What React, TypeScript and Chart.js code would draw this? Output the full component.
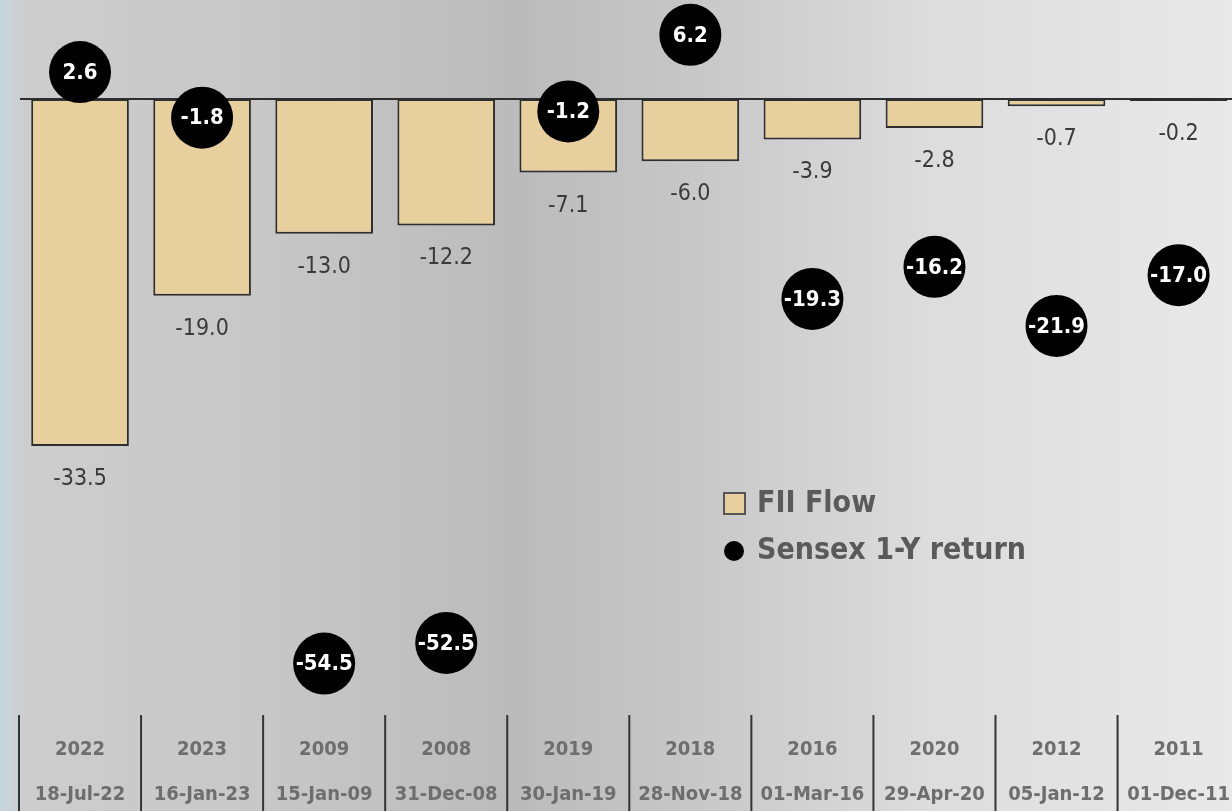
import React, { useEffect, useRef } from "react";
import { Chart, registerables } from "chart.js";

Chart.register(...registerables);

const years = ["2022", "2023", "2009", "2008", "2019", "2018", "2016", "2020", "2012", "2011"];
const dates = ["18-Jul-22", "16-Jan-23", "15-Jan-09", "31-Dec-08", "30-Jan-19", "28-Nov-18", "01-Mar-16", "29-Apr-20", "05-Jan-12", "01-Dec-11"];
const fiiFlow = [-33.5, -19.0, -13.0, -12.2, -7.1, -6.0, -3.9, -2.8, -0.7, -0.2];
const sensexReturn = [2.6, -1.8, -54.5, -52.5, -1.2, 6.2, -19.3, -16.2, -21.9, -17.0];

const FONT = "'Liberation Sans Narrow', 'DejaVu Sans Condensed', 'Roboto Condensed', sans-serif";

const bgPlugin = {
  id: "bg",
  beforeDraw(chart: any) {
    const { ctx, width, height } = chart;
    const g = ctx.createLinearGradient(0, 0, 1232, 0);
    g.addColorStop(0, "#c6d6de");
    g.addColorStop(0.007, "#c9d3d8");
    g.addColorStop(0.02, "#cdcdcd");
    g.addColorStop(0.2, "#c8c8c8");
    g.addColorStop(0.42, "#bbbbbb");
    g.addColorStop(0.55, "#c6c6c6");
    g.addColorStop(0.75, "#dcdcdc");
    g.addColorStop(1, "#e9e9e9");
    ctx.save();
    ctx.fillStyle = g;
    ctx.fillRect(0, 0, width, height);
    ctx.restore();
  },
};

const decorPlugin = {
  id: "decor",
  beforeDatasetsDraw(chart: any) {
    const { ctx, chartArea, scales } = chart;
    const y0 = scales.y.getPixelForValue(0);
    ctx.save();
    ctx.strokeStyle = "#2e2e2e";
    ctx.lineWidth = 2;
    ctx.beginPath();
    ctx.moveTo(chartArea.left + 1, y0);
    ctx.lineTo(chart.width, y0);
    ctx.stroke();
    ctx.restore();
  },
  afterDatasetsDraw(chart: any) {
    const { ctx, chartArea } = chart;
    ctx.save();
    // bar value labels
    const barMeta = chart.getDatasetMeta(0);
    ctx.fillStyle = "#3a3a3a";
    ctx.font = `23px ${FONT}`;
    ctx.textAlign = "center";
    ctx.textBaseline = "middle";
    barMeta.data.forEach((el: any, i: number) => {
      ctx.fillText(fiiFlow[i].toFixed(1), el.x, el.y + 33);
    });
    // circle labels
    const ptMeta = chart.getDatasetMeta(1);
    ctx.fillStyle = "#ffffff";
    ctx.font = `bold 22px ${FONT}`;
    ptMeta.data.forEach((el: any, i: number) => {
      ctx.fillText(sensexReturn[i].toFixed(1), el.x, el.y + 1);
    });
    // x axis separators
    const step = (chartArea.right - chartArea.left) / years.length;
    ctx.strokeStyle = "#333333";
    ctx.lineWidth = 2;
    for (let i = 0; i <= years.length; i++) {
      const x = chartArea.left + i * step;
      ctx.beginPath();
      ctx.moveTo(x, chartArea.bottom);
      ctx.lineTo(x, chart.height);
      ctx.stroke();
    }
    // legend
    ctx.fillStyle = "#e8d09e";
    ctx.strokeStyle = "#555555";
    ctx.lineWidth = 2;
    ctx.fillRect(724, 493, 21, 21);
    ctx.strokeRect(724, 493, 21, 21);
    ctx.fillStyle = "#000000";
    ctx.beginPath();
    ctx.arc(734, 551, 10, 0, Math.PI * 2);
    ctx.fill();
    ctx.fillStyle = "#5a5a5a";
    ctx.font = `bold 30px ${FONT}`;
    ctx.textAlign = "left";
    ctx.fillText("FII Flow", 757, 504);
    ctx.fillText("Sensex 1-Y return", 757, 551);
    ctx.restore();
  },
};

export default function App() {
  const ref = useRef<HTMLCanvasElement>(null);
  useEffect(() => {
    if (!ref.current) return;
    const chart = new Chart(ref.current, {
      type: "bar",
      data: {
        labels: years.map((y, i) => [y, dates[i]]),
        datasets: [
          {
            type: "bar",
            label: "FII Flow",
            data: fiiFlow,
            backgroundColor: "#e8d09e",
            borderColor: "#2e2e2e",
            borderWidth: 2,
            borderSkipped: false,
            barPercentage: 0.8,
            categoryPercentage: 1,
            order: 2,
          },
          {
            type: "line",
            label: "Sensex 1-Y return",
            data: sensexReturn,
            showLine: false,
            pointRadius: 31,
            pointHoverRadius: 31,
            pointBackgroundColor: "#000000",
            pointBorderColor: "#000000",
            pointBorderWidth: 0,
            clip: false,
            order: 1,
          } as any,
        ],
      },
      options: {
        responsive: false,
        animation: false,
        layout: { autoPadding: false, padding: { left: 19, right: 0, top: 0, bottom: 0 } },
        plugins: { legend: { display: false }, tooltip: { enabled: false } },
        scales: {
          x: {
            offset: true,
            grid: { display: false, drawTicks: false, tickLength: 0 },
            border: { display: false },
            ticks: {
              color: "#6e6e6e",
              font: { family: FONT, size: 20, weight: "bold", lineHeight: 2.25 },
              padding: 12,
              maxRotation: 0,
              autoSkip: false,
            },
            afterFit: (scale: any) => {
              scale.height = 96;
            },
          },
          y: {
            display: false,
            min: -59.46,
            max: 9.56,
          },
        },
      },
      plugins: [bgPlugin, decorPlugin],
    });
    return () => chart.destroy();
  }, []);
  return (
    <div style={{ position: "fixed", left: 0, top: 0, width: 1232, height: 811, overflow: "hidden" }}>
      <canvas ref={ref} width={1242} height={811} style={{ display: "block" }} />
    </div>
  );
}
